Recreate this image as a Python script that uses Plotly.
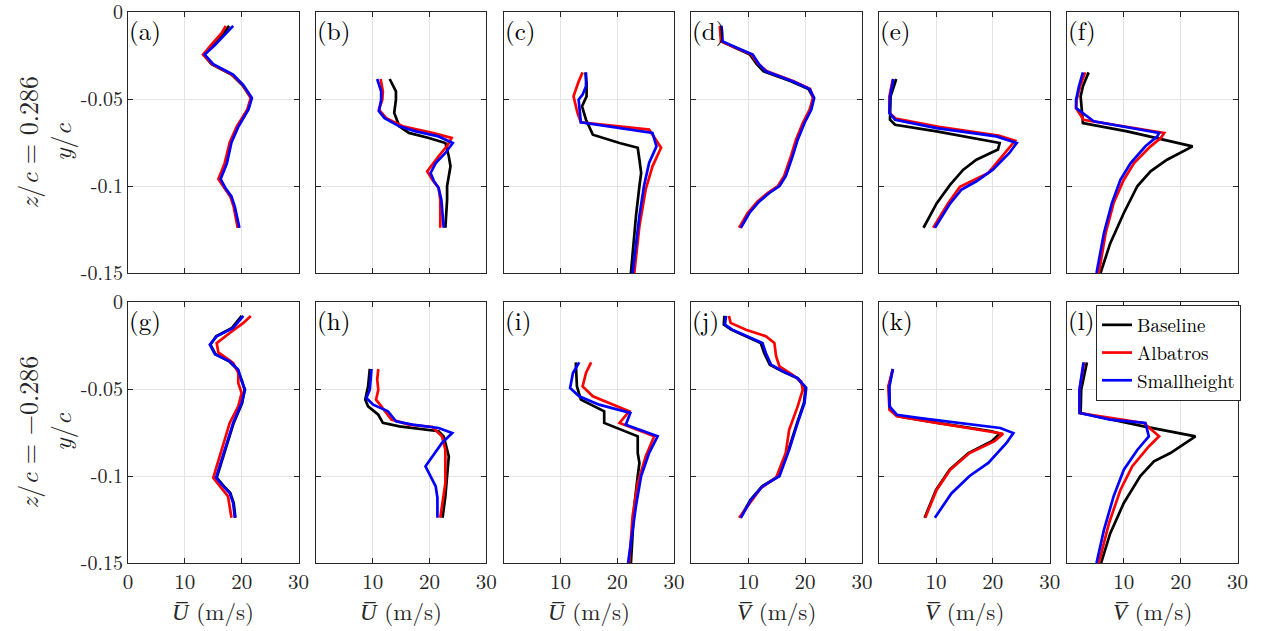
import plotly.graph_objects as go

# ---------------- data ----------------
# panel (a)  U, z/c = 0.286
a_y = [-0.008, -0.012, -0.019, -0.0245, -0.030, -0.036, -0.042, -0.0494, -0.056, -0.066, -0.075, -0.087, -0.096, -0.101, -0.106, -0.112, -0.124]
a_base = [17.8, 16.9, 15.0, 13.3, 14.7, 18.2, 20.1, 21.7, 21.1, 19.3, 18.1, 17.3, 16.2, 17.0, 18.1, 18.7, 19.5]
a_alb = [17.2, 16.5, 14.6, 13.2, 14.8, 18.3, 20.2, 21.6, 21.0, 19.1, 17.9, 17.0, 15.9, 16.9, 18.0, 18.6, 19.3]
a_small = [18.5, 17.4, 15.3, 13.5, 15.0, 18.5, 20.3, 21.8, 21.2, 19.4, 18.2, 17.4, 16.3, 17.1, 18.2, 18.8, 19.6]

# panel (b)
b_base_y = [-0.0385, -0.0456, -0.0504, -0.058, -0.0657, -0.0695, -0.0724, -0.0753, -0.0829, -0.0887, -0.0944, -0.100, -0.108, -0.124]
b_base = [13.0, 14.1, 14.1, 13.8, 14.7, 16.4, 19.9, 22.8, 23.4, 23.7, 23.4, 23.1, 23.1, 22.8]
b_alb_y = [-0.0385, -0.0456, -0.0504, -0.0561, -0.061, -0.0657, -0.0695, -0.0724, -0.077, -0.0829, -0.0916, -0.0964, -0.101, -0.108, -0.124]
b_alb = [11.4, 11.8, 11.7, 11.1, 12.4, 15.3, 20.5, 23.9, 23.1, 21.6, 19.6, 20.5, 21.6, 21.9, 21.9]
b_small_y = [-0.0385, -0.0456, -0.0504, -0.057, -0.061, -0.0657, -0.0686, -0.0715, -0.0753, -0.081, -0.0868, -0.0925, -0.0973, -0.101, -0.108, -0.124]
b_small = [10.8, 11.5, 11.5, 11.1, 12.1, 14.7, 17.6, 21.6, 24.1, 22.8, 21.1, 20.2, 20.8, 21.6, 22.1, 22.5]

# panel (c)
c_base_y = [-0.0347, -0.0408, -0.0485, -0.0542, -0.0619, -0.0705, -0.0753, -0.078, -0.0849, -0.0925, -0.100, -0.117, -0.150]
c_base = [14.4, 14.6, 14.6, 13.8, 14.5, 15.7, 20.4, 23.6, 23.9, 24.2, 23.9, 23.3, 22.4]
c_alb_y = [-0.0347, -0.040, -0.0485, -0.058, -0.0634, -0.0676, -0.078, -0.0887, -0.102, -0.123, -0.150]
c_alb = [13.9, 13.2, 12.3, 13.0, 13.6, 25.6, 27.7, 26.2, 25.0, 23.9, 23.0]
c_small_y = [-0.0347, -0.0427, -0.0475, -0.0504, -0.0634, -0.0695, -0.0772, -0.0868, -0.100, -0.117, -0.150]
c_small = [14.5, 14.5, 13.9, 13.2, 13.6, 26.2, 26.9, 25.6, 24.7, 23.9, 22.7]

# panel (d)  V
d_y = [-0.008, -0.0169, -0.0207, -0.0245, -0.030, -0.0341, -0.0398, -0.0443, -0.0494, -0.0561, -0.0638, -0.0734, -0.083, -0.0944, -0.100, -0.104, -0.109, -0.1155, -0.124]
d_base = [5.1, 5.3, 7.8, 10.3, 11.5, 12.7, 17.5, 20.6, 21.5, 21.0, 19.8, 18.6, 17.7, 16.5, 15.4, 13.6, 11.8, 10.1, 8.6]
d_alb = [5.0, 5.2, 7.9, 10.6, 11.8, 13.3, 18.0, 20.9, 21.4, 20.8, 19.6, 18.4, 17.5, 16.3, 15.2, 13.4, 11.6, 9.9, 8.4]
d_small = [5.3, 5.5, 8.1, 10.8, 11.9, 13.1, 17.8, 20.8, 21.6, 21.1, 19.9, 18.7, 17.8, 16.6, 15.5, 13.7, 11.9, 10.2, 8.7]

# panel (e)
e_base_y = [-0.0385, -0.0485, -0.0619, -0.0648, -0.0686, -0.0753, -0.079, -0.0849, -0.0906, -0.0992, -0.110, -0.124]
e_base = [3.0, 2.0, 1.9, 2.8, 10.1, 21.2, 20.9, 17.1, 14.8, 12.5, 10.1, 7.8]
e_alb_y = [-0.0385, -0.0485, -0.058, -0.0612, -0.066, -0.071, -0.074, -0.080, -0.0925, -0.1005, -0.110, -0.124]
e_alb = [2.4, 1.8, 1.8, 2.9, 10.5, 21.0, 23.9, 22.4, 19.2, 14.2, 12.1, 9.5]
e_small_y = [-0.0385, -0.0485, -0.058, -0.0619, -0.0667, -0.0715, -0.0753, -0.081, -0.0906, -0.0973, -0.102, -0.110, -0.124]
e_small = [2.5, 1.9, 1.8, 2.8, 10.1, 20.6, 24.2, 22.9, 20.0, 17.1, 14.5, 12.5, 9.8]

# panel (f)
f_base_y = [-0.0347, -0.0427, -0.0485, -0.0638, -0.0686, -0.0772, -0.0849, -0.0916, -0.100, -0.1155, -0.133, -0.150]
f_base = [3.8, 2.8, 2.4, 2.8, 10.6, 22.1, 17.6, 14.7, 12.4, 10.0, 7.6, 5.9]
f_alb_y = [-0.0347, -0.0427, -0.0504, -0.0552, -0.0619, -0.0695, -0.0724, -0.0772, -0.0868, -0.0964, -0.1098, -0.127, -0.150]
f_alb = [3.2, 2.3, 1.7, 1.6, 2.9, 17.1, 16.5, 14.7, 11.8, 10.0, 8.2, 6.8, 5.6]
f_small_y = [-0.0347, -0.0427, -0.0504, -0.0552, -0.0628, -0.0695, -0.0715, -0.0772, -0.0868, -0.0964, -0.1098, -0.127, -0.150]
f_small = [2.8, 2.1, 1.6, 1.6, 4.7, 16.2, 15.9, 13.8, 11.2, 9.4, 7.9, 6.5, 5.2]

# panel (g)  U, z/c = -0.286
g_y = [-0.008, -0.0149, -0.0197, -0.0245, -0.030, -0.0341, -0.0389, -0.0456, -0.0504, -0.058, -0.0695, -0.081, -0.0906, -0.101, -0.106, -0.1098, -0.1155, -0.124]
g_base = [20.0, 18.3, 15.5, 14.5, 15.4, 17.8, 19.3, 20.1, 20.5, 20.1, 18.6, 17.5, 16.6, 15.6, 16.9, 18.0, 18.6, 18.9]
g_small = [20.3, 18.5, 15.6, 14.4, 15.3, 17.9, 19.4, 20.0, 20.6, 20.0, 18.5, 17.4, 16.5, 15.5, 16.8, 17.9, 18.5, 18.8]
g_alb_y = [-0.008, -0.012, -0.0178, -0.0236, -0.029, -0.035, -0.0408, -0.0466, -0.0523, -0.060, -0.0695, -0.081, -0.0906, -0.101, -0.106, -0.1117, -0.124]
g_alb = [21.6, 20.3, 17.9, 15.6, 15.9, 18.5, 19.4, 19.4, 20.0, 19.4, 17.9, 16.8, 15.9, 15.0, 16.2, 17.6, 18.2]

# panel (h)
h_base_y = [-0.0385, -0.0485, -0.0561, -0.060, -0.0648, -0.0695, -0.0715, -0.0743, -0.0772, -0.0887, -0.100, -0.1117, -0.124]
h_base = [9.5, 9.2, 8.7, 9.2, 11.0, 11.8, 14.7, 21.6, 22.5, 23.4, 23.1, 22.8, 22.3]
h_alb_y = [-0.0385, -0.0446, -0.0504, -0.0561, -0.059, -0.0648, -0.0676, -0.0705, -0.0718, -0.0772, -0.0849, -0.0944, -0.104, -0.124]
h_alb = [11.0, 10.8, 11.0, 10.6, 11.3, 12.7, 13.3, 16.4, 20.5, 22.2, 22.8, 22.8, 22.8, 21.9]
h_small_y = [-0.0385, -0.0446, -0.0504, -0.0552, -0.059, -0.0628, -0.0686, -0.0705, -0.0724, -0.0753, -0.081, -0.0944, -0.100, -0.106, -0.1126, -0.124]
h_small = [9.8, 9.7, 9.5, 8.9, 10.1, 12.7, 14.1, 17.0, 21.6, 24.0, 22.2, 19.3, 20.2, 21.1, 21.4, 21.4]

# panel (i)
i_base_y = [-0.0347, -0.0485, -0.0561, -0.0628, -0.0695, -0.0753, -0.0772, -0.0868, -0.0925, -0.100, -0.117, -0.150]
i_base = [12.7, 12.9, 13.6, 17.7, 17.7, 22.1, 23.6, 23.6, 23.9, 23.6, 23.0, 22.4]
i_alb_y = [-0.0347, -0.0408, -0.0485, -0.0542, -0.0628, -0.0695, -0.0772, -0.0887, -0.104, -0.123, -0.150]
i_alb = [15.4, 14.5, 13.9, 15.7, 22.1, 20.4, 26.5, 25.0, 23.6, 22.7, 22.1]
i_small_y = [-0.0347, -0.0408, -0.0494, -0.0542, -0.059, -0.0638, -0.0705, -0.0772, -0.0868, -0.100, -0.117, -0.150]
i_small = [13.3, 12.2, 11.7, 13.3, 16.8, 22.3, 21.5, 27.1, 25.6, 24.2, 23.3, 21.9]

# panel (j)  V
j_y = [-0.008, -0.013, -0.0159, -0.0207, -0.0236, -0.0293, -0.036, -0.0398, -0.0437, -0.0494, -0.058, -0.0695, -0.0849, -0.100, -0.106, -0.1136, -0.124]
j_base = [5.8, 5.7, 7.0, 10.3, 12.2, 12.8, 13.8, 16.0, 18.6, 20.1, 19.8, 18.6, 17.1, 15.4, 12.4, 10.4, 8.6]
j_small = [6.1, 5.9, 7.2, 10.5, 12.5, 13.1, 14.0, 16.1, 18.7, 20.2, 19.9, 18.7, 17.2, 15.5, 12.5, 10.5, 8.7]
j_alb_y = [-0.008, -0.012, -0.0159, -0.0197, -0.0236, -0.0312, -0.037, -0.0418, -0.0456, -0.0504, -0.060, -0.0734, -0.0868, -0.101, -0.107, -0.124]
j_alb = [6.6, 6.9, 9.6, 13.1, 14.6, 14.9, 15.5, 17.8, 19.3, 19.6, 18.7, 17.2, 16.6, 14.9, 12.2, 8.4]

# panel (k)
k_y = [-0.0385, -0.0485, -0.0619, -0.0657, -0.0695, -0.0743, -0.0757, -0.080, -0.0868, -0.0964, -0.108, -0.124]
k_base = [2.4, 1.7, 1.9, 3.3, 10.3, 19.8, 21.2, 19.8, 15.7, 12.4, 10.0, 8.0]
k_alb = [2.4, 1.6, 1.8, 3.1, 10.1, 19.5, 21.8, 20.3, 15.9, 12.5, 10.1, 8.1]
k_small_y = [-0.0385, -0.0485, -0.060, -0.0648, -0.0667, -0.0724, -0.0753, -0.081, -0.0925, -0.100, -0.110, -0.124]
k_small = [2.4, 1.8, 1.8, 3.1, 7.2, 21.3, 23.6, 22.4, 19.2, 15.9, 12.7, 9.8]

# panel (l)
l_base_y = [-0.0347, -0.0504, -0.0638, -0.0715, -0.0772, -0.0868, -0.0916, -0.100, -0.1155, -0.133, -0.150]
l_base = [3.5, 2.5, 2.4, 13.5, 22.6, 18.2, 15.3, 12.9, 10.0, 7.6, 6.0]
l_alb_y = [-0.0347, -0.0504, -0.0638, -0.0695, -0.0772, -0.083, -0.0944, -0.108, -0.127, -0.150]
l_alb = [3.0, 2.2, 2.2, 13.5, 16.2, 14.4, 11.5, 9.4, 7.4, 5.6]
l_small_y = [-0.0347, -0.0427, -0.0504, -0.0638, -0.0676, -0.0695, -0.0772, -0.0849, -0.0964, -0.1117, -0.131, -0.150]
l_small = [2.9, 2.5, 2.2, 2.2, 7.6, 13.8, 14.4, 12.4, 10.0, 8.2, 6.5, 5.2]

series_names = ["Baseline", "Albatros", "Smallheight"]
series_colors = ["#000000", "#ff0000", "#0000ff"]
panel_labels = ["(a)", "(b)", "(c)", "(d)", "(e)", "(f)", "(g)", "(h)", "(i)", "(j)", "(k)", "(l)"]
x_ticks = [0, 10, 20, 30]
y_ticks = [0, -0.05, -0.1, -0.15]
y_ticktext = ["0", "-0.05", "-0.1", "-0.15"]
row_titles = ["<i>z</i>/<i>c</i> = 0.286<br><i>y</i>/<i>c</i>", "<i>z</i>/<i>c</i> = \u22120.286<br><i>y</i>/<i>c</i>"]
col_xtitles = ["U", "U", "U", "V", "V", "V"]

panels = [
    [(a_y, a_base), (a_y, a_alb), (a_y, a_small)],
    [(b_base_y, b_base), (b_alb_y, b_alb), (b_small_y, b_small)],
    [(c_base_y, c_base), (c_alb_y, c_alb), (c_small_y, c_small)],
    [(d_y, d_base), (d_y, d_alb), (d_y, d_small)],
    [(e_base_y, e_base), (e_alb_y, e_alb), (e_small_y, e_small)],
    [(f_base_y, f_base), (f_alb_y, f_alb), (f_small_y, f_small)],
    [(g_y, g_base), (g_alb_y, g_alb), (g_y, g_small)],
    [(h_base_y, h_base), (h_alb_y, h_alb), (h_small_y, h_small)],
    [(i_base_y, i_base), (i_alb_y, i_alb), (i_small_y, i_small)],
    [(j_y, j_base), (j_alb_y, j_alb), (j_y, j_small)],
    [(k_y, k_base), (k_y, k_alb), (k_small_y, k_small)],
    [(l_base_y, l_base), (l_alb_y, l_alb), (l_small_y, l_small)],
]

# ---------------- layout geometry ----------------
W, H = 1262, 631
FONT = "Latin Modern Roman"
left0, pitch, pw = 128.0, 187.8, 170.5
rows_px = [(12, 273), (302, 563)]

fig = go.Figure()
layout = dict(
    width=W, height=H,
    margin=dict(l=0, r=0, t=0, b=0, pad=0, autoexpand=False),
    paper_bgcolor="white", plot_bgcolor="white",
    font=dict(family=FONT, size=20, color="#262626"),
    showlegend=True,
    legend=dict(x=1096 / W, y=1 - 305 / H, xanchor="left", yanchor="top",
                bgcolor="white", bordercolor="#262626", borderwidth=1,
                font=dict(family=FONT, size=19, color="#000000"),
                itemwidth=30, tracegroupgap=0),
)
annotations = []

for k in range(12):
    r, c = divmod(k, 6)
    ax = k + 1
    xa = "x" if ax == 1 else f"x{ax}"
    ya = "y" if ax == 1 else f"y{ax}"
    x0 = (left0 + c * pitch) / W
    x1 = (left0 + c * pitch + pw) / W
    top, bot = rows_px[r]
    y0 = 1 - bot / H
    y1 = 1 - top / H
    for s in range(3):
        yy, xx = panels[k][s]
        fig.add_trace(go.Scatter(
            x=xx, y=yy, mode="lines", xaxis=xa, yaxis=ya,
            line=dict(color=series_colors[s], width=2.7),
            name=series_names[s], legendgroup=series_names[s],
            showlegend=(k == 11), hoverinfo="skip"))
    show_x = (r == 1)
    show_y = (c == 0)
    xt = x_ticks if (c == 0 or not show_x) else x_ticks[1:]
    layout["xaxis" + ("" if ax == 1 else str(ax))] = dict(
        domain=[x0, x1], anchor=ya, range=[0, 30], tickvals=xt,
        showticklabels=show_x, ticks="inside", ticklen=5, tickcolor="#262626",
        showline=True, linecolor="#262626", linewidth=1, mirror="ticks",
        showgrid=True, gridcolor="#e3e3e3", gridwidth=1, zeroline=False,
        automargin=False, ticklabeloverflow="allow",
        tickfont=dict(family=FONT, size=21, color="#262626"), fixedrange=True)
    layout["yaxis" + ("" if ax == 1 else str(ax))] = dict(
        domain=[y0, y1], anchor=xa, range=[-0.15, 0], tickvals=y_ticks,
        ticktext=y_ticktext, showticklabels=show_y, ticks="inside", ticklen=5,
        tickcolor="#262626", showline=True, linecolor="#262626", linewidth=1,
        mirror="ticks", showgrid=True, gridcolor="#e3e3e3", gridwidth=1,
        zeroline=False, automargin=False, ticklabeloverflow="allow",
        tickfont=dict(family=FONT, size=20, color="#262626"),
        fixedrange=True)
    annotations.append(dict(
        text=panel_labels[k], xref=f"{xa} domain", yref=f"{ya} domain",
        x=0.0, y=1.0, xanchor="left", yanchor="top", showarrow=False,
        font=dict(family=FONT, size=25, color="#000000"), xshift=-1, yshift=2))
    if show_x:
        annotations.append(dict(
            text=f"<i>{col_xtitles[c]}\u0305</i> (m/s)", xref=f"{xa} domain", yref="paper",
            x=0.5, y=1 - 610 / H, xanchor="center", yanchor="middle",
            showarrow=False, font=dict(family=FONT, size=23, color="#262626")))
    if show_y:
        annotations.append(dict(
            text=row_titles[r], xref="paper", yref=f"{ya} domain",
            x=44 / W, y=0.5, xanchor="center", yanchor="middle", textangle=-90,
            showarrow=False, font=dict(family=FONT, size=26, color="#262626")))

layout["annotations"] = annotations
fig.update_layout(**layout)
fig.write_html("out.html")
